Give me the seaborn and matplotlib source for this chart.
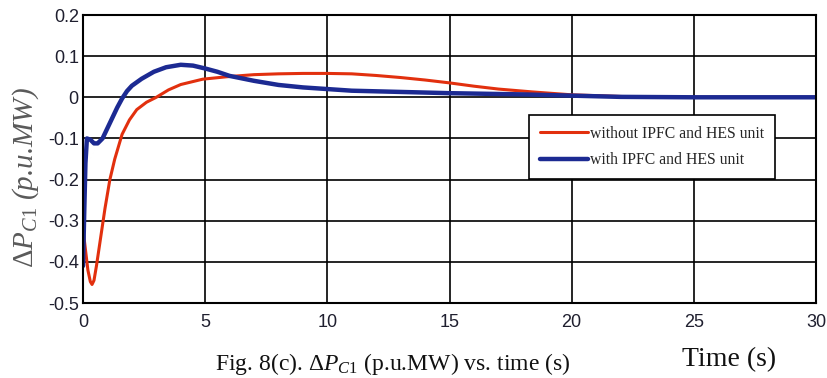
import matplotlib
matplotlib.use("Agg")
import matplotlib.pyplot as plt
import seaborn as sns
import pandas as pd

# Response of tie-line power deviation, area 1
time_without = [0.0, 0.1, 0.2, 0.3, 0.37, 0.45, 0.55, 0.7, 0.9, 1.1, 1.3, 1.6,
                1.9, 2.2, 2.6, 3.0, 3.5, 4.0, 4.9, 5.9, 7.0, 8.0, 9.0, 10.0,
                11.0, 12.0, 13.0, 14.0, 15.0, 16.0, 17.0, 18.4, 20.0, 21.0,
                22.0, 23.0, 25.0, 30.0]
dpc1_without = [-0.32, -0.37, -0.42, -0.448, -0.455, -0.445, -0.41, -0.35,
                -0.27, -0.2, -0.15, -0.09, -0.055, -0.03, -0.012, 0.0, 0.018,
                0.031, 0.044, 0.05, 0.055, 0.057, 0.058, 0.058, 0.057, 0.053,
                0.048, 0.042, 0.035, 0.027, 0.02, 0.013, 0.006, 0.004, 0.002,
                0.0, 0.0, 0.0]

time_with = [0.0, 0.05, 0.1, 0.16, 0.3, 0.45, 0.6, 0.8, 1.0, 1.2, 1.4, 1.6,
             1.8, 2.0, 2.4, 2.9, 3.4, 4.0, 4.5, 5.0, 5.5, 6.0, 7.0, 8.0, 9.0,
             10.0, 11.0, 13.0, 15.0, 18.0, 20.0, 22.0, 25.0, 30.0]
dpc1_with = [-0.41, -0.28, -0.16, -0.1, -0.103, -0.112, -0.112, -0.1, -0.075,
             -0.05, -0.025, -0.003, 0.015, 0.028, 0.045, 0.062, 0.073, 0.079,
             0.077, 0.07, 0.062, 0.052, 0.04, 0.03, 0.024, 0.02, 0.016, 0.013,
             0.01, 0.007, 0.004, 0.001, 0.0, 0.0]

label_without = "without IPFC and HES unit"
label_with = "with IPFC and HES unit"
x_ticks = [0, 5, 10, 15, 20, 25, 30]
y_ticks = [0.2, 0.1, 0.0, -0.1, -0.2, -0.3, -0.4, -0.5]
y_tick_labels = ["0.2", "0.1", "0", "-0.1", "-0.2", "-0.3", "-0.4", "-0.5"]

df_without = pd.DataFrame({"t": time_without, "v": dpc1_without})
df_with = pd.DataFrame({"t": time_with, "v": dpc1_with})

sns.set_theme(style="white")
plt.rcParams["font.family"] = ["Liberation Sans", "DejaVu Sans"]
plt.rcParams["mathtext.fontset"] = "custom"
plt.rcParams["mathtext.rm"] = "Liberation Serif"
plt.rcParams["mathtext.it"] = "Liberation Serif:italic"

fig = plt.figure(figsize=(8.27, 3.78), dpi=100)
ax = fig.add_axes([83 / 827, 1 - 303 / 378, 733 / 827, 288 / 378])

sns.lineplot(data=df_without, x="t", y="v", ax=ax, color="#e2300e",
             linewidth=2.2, estimator=None, sort=False, label=label_without)
sns.lineplot(data=df_with, x="t", y="v", ax=ax, color="#1c2a92",
             linewidth=3.2, estimator=None, sort=False, label=label_with)

ax.set_xlim(0, 30)
ax.set_ylim(-0.5, 0.2)
ax.set_xticks(x_ticks)
ax.set_yticks(y_ticks)
ax.set_yticklabels(y_tick_labels)
ax.set_xlabel("")
ax.set_ylabel("")
ax.grid(True, color="black", linewidth=1.2)
ax.set_axisbelow(True)
for s in ax.spines.values():
    s.set_color("black")
    s.set_linewidth(1.5)
ax.tick_params(axis="both", direction="in", length=3, color="black",
               labelsize=13, labelcolor="#1f1f2f")
ax.tick_params(axis="x", pad=8)
ax.tick_params(axis="y", pad=3)

leg = ax.legend(loc="upper left", bbox_to_anchor=(0.608, 0.653),
                borderaxespad=0, frameon=True, fancybox=False, framealpha=1,
                edgecolor="black", handlelength=3.1, handletextpad=0.1,
                labelspacing=0.65, borderpad=0.7,
                prop={"family": "Liberation Serif", "size": 11.3})
leg.get_frame().set_linewidth(1.2)

fig.text(26 / 827, 1 - 178 / 378, r"$\mathit{\Delta P_{C1}}$ (p.u.MW)",
         rotation=90, ha="center", va="center", color="#5a5a5a",
         fontsize=21, family="Liberation Serif", style="italic")

fig.text(729 / 827, 1 - 360 / 378, "Time (s)", ha="center", va="center",
         fontsize=20, family="Liberation Serif", color="#111111")

fig.text(215 / 827, 1 / 378,
         r"Fig. 8(c). $\mathit{\Delta P_{C1}}$ (p.u.MW) vs. time (s)",
         ha="left", va="bottom", fontsize=17, family="Liberation Serif",
         color="#111111")

fig.savefig("out.png", dpi=100)
